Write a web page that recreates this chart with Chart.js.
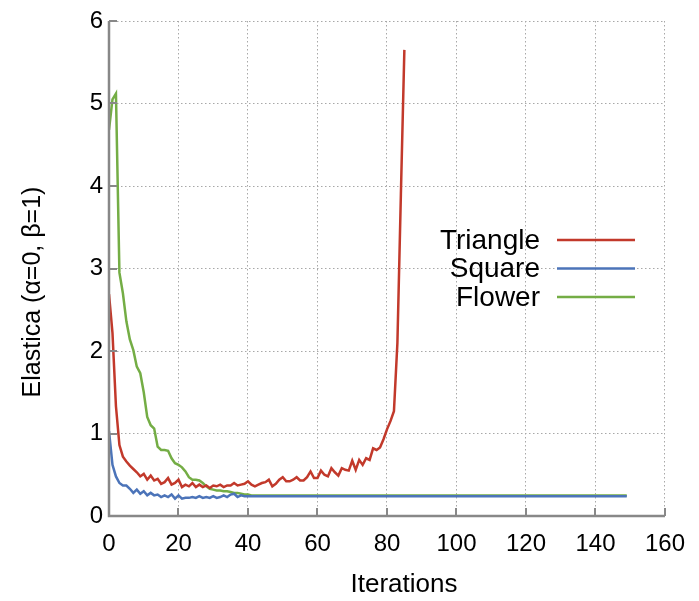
<!DOCTYPE html>
<html>
<head>
<meta charset="utf-8">
<script src="https://cdn.jsdelivr.net/npm/chart.js@4"></script>
<style>
  html, body { margin: 0; padding: 0; background: #fff; }
  #wrap { width: 699px; height: 601px; }
</style>
</head>
<body>
<div id="wrap"><canvas id="chart" width="699" height="601"></canvas></div>
<script>
// series labels
const seriesNames = ['Triangle', 'Square', 'Flower'];
const seriesColors = ['#c2392b', '#4c74b9', '#74ad45'];

// Triangle, iterations 0..85
const triangle = [
  2.69, 2.22, 1.33, 0.86, 0.72, 0.66, 0.61, 0.57, 0.53, 0.48,
  0.51, 0.44, 0.49, 0.43, 0.45, 0.39, 0.41, 0.46, 0.38, 0.40,
  0.44, 0.35, 0.38, 0.36, 0.40, 0.35, 0.38, 0.35, 0.37, 0.34,
  0.37, 0.36, 0.38, 0.35, 0.37, 0.37, 0.40, 0.37, 0.38, 0.39,
  0.42, 0.38, 0.36, 0.38, 0.40, 0.41, 0.44, 0.36, 0.39, 0.44,
  0.47, 0.42, 0.42, 0.44, 0.47, 0.43, 0.43, 0.47, 0.54, 0.46,
  0.46, 0.55, 0.50, 0.48, 0.58, 0.53, 0.49, 0.58, 0.56, 0.55,
  0.67, 0.56, 0.68, 0.62, 0.70, 0.68, 0.82, 0.80, 0.83, 0.93,
  1.05, 1.15, 1.27, 2.10, 3.90, 5.65
];

// Square, iterations 0..149
const square = [
  1.03, 0.62, 0.48, 0.40, 0.37, 0.37, 0.33, 0.28, 0.32, 0.27,
  0.30, 0.25, 0.28, 0.25, 0.26, 0.23, 0.25, 0.23, 0.26, 0.21,
  0.25, 0.21, 0.22, 0.22, 0.23, 0.22, 0.24, 0.22, 0.23, 0.22,
  0.24, 0.22, 0.23, 0.25, 0.23, 0.26, 0.27, 0.23, 0.25, 0.24,
  0.24, 0.24, 0.24, 0.24, 0.24, 0.24, 0.24, 0.24, 0.24, 0.24,
  0.24, 0.24, 0.24, 0.24, 0.24, 0.24, 0.24, 0.24, 0.24, 0.24,
  0.24, 0.24, 0.24, 0.24, 0.24, 0.24, 0.24, 0.24, 0.24, 0.24,
  0.24, 0.24, 0.24, 0.24, 0.24, 0.24, 0.24, 0.24, 0.24, 0.24,
  0.24, 0.24, 0.24, 0.24, 0.24, 0.24, 0.24, 0.24, 0.24, 0.24,
  0.24, 0.24, 0.24, 0.24, 0.24, 0.24, 0.24, 0.24, 0.24, 0.24,
  0.24, 0.24, 0.24, 0.24, 0.24, 0.24, 0.24, 0.24, 0.24, 0.24,
  0.24, 0.24, 0.24, 0.24, 0.24, 0.24, 0.24, 0.24, 0.24, 0.24,
  0.24, 0.24, 0.24, 0.24, 0.24, 0.24, 0.24, 0.24, 0.24, 0.24,
  0.24, 0.24, 0.24, 0.24, 0.24, 0.24, 0.24, 0.24, 0.24, 0.24,
  0.24, 0.24, 0.24, 0.24, 0.24, 0.24, 0.24, 0.24, 0.24, 0.24
];

// Flower, iterations 0..149
const flower = [
  4.68, 5.05, 5.12, 2.95, 2.70, 2.36, 2.14, 2.01, 1.81, 1.73,
  1.50, 1.20, 1.10, 1.06, 0.84, 0.80, 0.80, 0.79, 0.70, 0.64,
  0.62, 0.59, 0.54, 0.47, 0.44, 0.44, 0.43, 0.40, 0.36, 0.33,
  0.32, 0.31, 0.31, 0.30, 0.30, 0.29, 0.28, 0.28, 0.27, 0.26,
  0.26, 0.25, 0.25, 0.25, 0.25, 0.25, 0.25, 0.25, 0.25, 0.25,
  0.25, 0.25, 0.25, 0.25, 0.25, 0.25, 0.25, 0.25, 0.25, 0.25,
  0.25, 0.25, 0.25, 0.25, 0.25, 0.25, 0.25, 0.25, 0.25, 0.25,
  0.25, 0.25, 0.25, 0.25, 0.25, 0.25, 0.25, 0.25, 0.25, 0.25,
  0.25, 0.25, 0.25, 0.25, 0.25, 0.25, 0.25, 0.25, 0.25, 0.25,
  0.25, 0.25, 0.25, 0.25, 0.25, 0.25, 0.25, 0.25, 0.25, 0.25,
  0.25, 0.25, 0.25, 0.25, 0.25, 0.25, 0.25, 0.25, 0.25, 0.25,
  0.25, 0.25, 0.25, 0.25, 0.25, 0.25, 0.25, 0.25, 0.25, 0.25,
  0.25, 0.25, 0.25, 0.25, 0.25, 0.25, 0.25, 0.25, 0.25, 0.25,
  0.25, 0.25, 0.25, 0.25, 0.25, 0.25, 0.25, 0.25, 0.25, 0.25,
  0.25, 0.25, 0.25, 0.25, 0.25, 0.25, 0.25, 0.25, 0.25, 0.25
];

// axis ticks and titles
const xTicks = [0, 20, 40, 60, 80, 100, 120, 140, 160];
const yTicks = [0, 1, 2, 3, 4, 5, 6];
const xTitle = 'Iterations';
const yTitle = 'Elastica (\u03b1=0, \u03b2=1)';

const FONT = 'Liberation Sans, Arial, Helvetica, sans-serif';
const axisGrey = '#888888';

function toPoints(arr) {
  return arr.map((v, i) => ({ x: i, y: v }));
}

// solid axis lines + short tick marks pointing into the plot
const innerTicks = {
  id: 'innerTicks',
  afterDatasetsDraw(chart) {
    const ctx = chart.ctx;
    const xs = chart.scales.x, ys = chart.scales.y;
    const area = chart.chartArea;
    ctx.save();
    ctx.strokeStyle = axisGrey;
    ctx.lineWidth = 2.5;
    ctx.beginPath();
    ctx.moveTo(area.left, area.top);
    ctx.lineTo(area.left, area.bottom);
    ctx.lineTo(area.right, area.bottom);
    ctx.stroke();
    ctx.lineWidth = 2;
    ctx.beginPath();
    xTicks.forEach(t => {
      const px = Math.round(xs.getPixelForValue(t));
      ctx.moveTo(px, area.bottom);
      ctx.lineTo(px, area.bottom - 8);
    });
    yTicks.forEach(t => {
      const py = Math.round(ys.getPixelForValue(t));
      ctx.moveTo(area.left, py);
      ctx.lineTo(area.left + 8, py);
    });
    ctx.stroke();
    ctx.restore();
  }
};

// axis titles, placed like the original (slightly off-centre)
const axisTitles = {
  id: 'axisTitles',
  afterDraw(chart) {
    const ctx = chart.ctx;
    ctx.save();
    ctx.fillStyle = '#000';
    ctx.textAlign = 'center';
    ctx.textBaseline = 'middle';
    ctx.font = '26px "Liberation Sans Narrow", ' + FONT;
    ctx.fillText(xTitle, 404, 585);
    ctx.translate(33, 292);
    ctx.rotate(-Math.PI / 2);
    ctx.font = '25px ' + FONT;
    ctx.fillText(yTitle, 0, 0);
    ctx.restore();
  }
};

// key drawn inside the plot: text on the left, line sample on the right
const insideKey = {
  id: 'insideKey',
  afterDraw(chart) {
    const ctx = chart.ctx;
    ctx.save();
    ctx.font = '28px ' + FONT;
    ctx.fillStyle = '#000';
    ctx.textAlign = 'right';
    ctx.textBaseline = 'middle';
    chart.data.datasets.forEach((ds, i) => {
      const y = 240 + i * 28.5;
      ctx.fillText(ds.label, 540, y + 1);
      ctx.strokeStyle = ds.borderColor;
      ctx.lineWidth = 2.5;
      ctx.beginPath();
      ctx.moveTo(557, y);
      ctx.lineTo(635, y);
      ctx.stroke();
    });
    ctx.restore();
  }
};

new Chart(document.getElementById('chart'), {
  type: 'line',
  data: {
    datasets: [
      { label: seriesNames[0], data: toPoints(triangle), borderColor: seriesColors[0] },
      { label: seriesNames[1], data: toPoints(square), borderColor: seriesColors[1] },
      { label: seriesNames[2], data: toPoints(flower), borderColor: seriesColors[2] }
    ]
  },
  options: {
    responsive: false,
    animation: false,
    layout: { padding: { top: 21, right: 30, left: 0, bottom: 0 } },
    elements: {
      point: { radius: 0 },
      line: { borderWidth: 2.5, tension: 0, fill: false }
    },
    plugins: {
      legend: { display: false },
      tooltip: { enabled: false }
    },
    scales: {
      x: {
        type: 'linear',
        min: 0, max: 160,
        afterBuildTicks: s => { s.ticks = xTicks.map(v => ({ value: v })); },
        afterFit: s => { s.height = 85; },
        ticks: { color: '#000', font: { family: FONT, size: 24 }, padding: 14, maxRotation: 0 },
        grid: { color: '#a8a8a8', lineWidth: 1, drawTicks: false },
        border: { display: false, dash: [1.5, 2.5] }
      },
      y: {
        min: 0, max: 6,
        afterBuildTicks: s => { s.ticks = yTicks.map(v => ({ value: v })); },
        afterFit: s => { s.width = 109; },
        ticks: { color: '#000', font: { family: FONT, size: 24 }, padding: 6 },
        grid: { color: '#a8a8a8', lineWidth: 1, drawTicks: false },
        border: { display: false, dash: [1.5, 2.5] }
      }
    }
  },
  plugins: [innerTicks, axisTitles, insideKey]
});
</script>
</body>
</html>
